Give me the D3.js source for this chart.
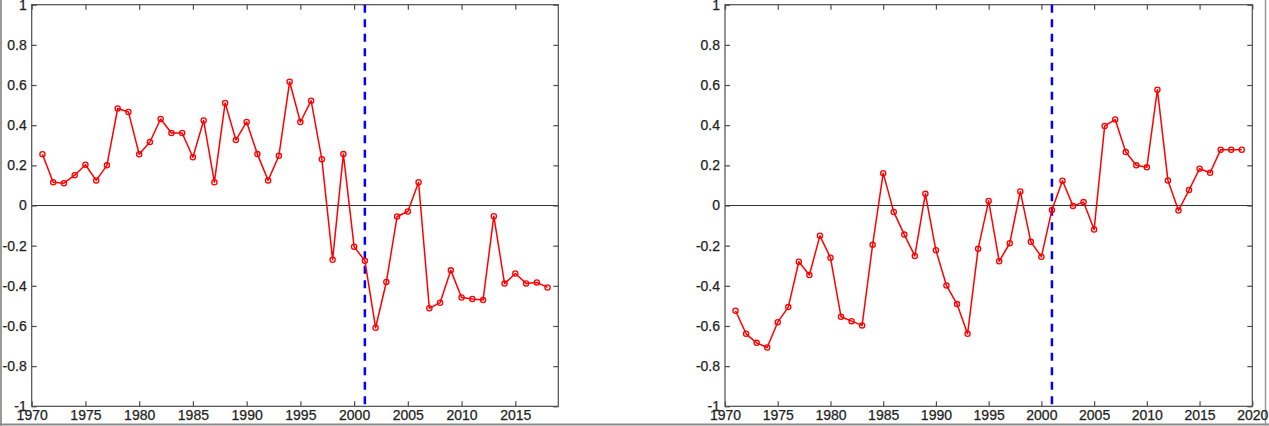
<!DOCTYPE html>
<html>
<head>
<meta charset="utf-8">
<script src="https://cdn.jsdelivr.net/npm/d3@7"></script>
<style>
  html, body { margin: 0; padding: 0; background: #fff; }
  svg { display: block; }
</style>
</head>
<body>
<svg id="chart" width="1269" height="426"></svg>
<script>
// ---- data ----
const yearsLeft = d3.range(1971, 2019);
const valuesLeft = [0.255, 0.116, 0.111, 0.151, 0.203, 0.125, 0.200, 0.483, 0.466, 0.255,
  0.316, 0.431, 0.361, 0.361, 0.240, 0.423, 0.116, 0.511, 0.326, 0.416,
  0.256, 0.125, 0.248, 0.616, 0.416, 0.522, 0.230, -0.270, 0.256, -0.205,
  -0.275, -0.609, -0.381, -0.055, -0.030, 0.116, -0.512, -0.484, -0.323, -0.458,
  -0.466, -0.471, -0.053, -0.389, -0.339, -0.388, -0.383, -0.408];
const yearsRight = d3.range(1971, 2020);
const valuesRight = [-0.524, -0.639, -0.684, -0.707, -0.581, -0.506, -0.280, -0.346, -0.151, -0.260,
  -0.554, -0.576, -0.597, -0.195, 0.161, -0.032, -0.145, -0.251, 0.058, -0.223,
  -0.398, -0.491, -0.639, -0.216, 0.023, -0.278, -0.188, 0.070, -0.181, -0.255,
  -0.022, 0.123, -0.002, 0.017, -0.120, 0.396, 0.428, 0.266, 0.200, 0.190,
  0.577, 0.125, -0.025, 0.077, 0.183, 0.163, 0.278, 0.278, 0.278];
const breakYear = 2001;
const yTicks = [-1, -0.8, -0.6, -0.4, -0.2, 0, 0.2, 0.4, 0.6, 0.8, 1];
const yTickLabels = ["-1", "-0.8", "-0.6", "-0.4", "-0.2", "0", "0.2", "0.4", "0.6", "0.8", "1"];
const xTicksLeft = [1970, 1975, 1980, 1985, 1990, 1995, 2000, 2005, 2010, 2015];
const xTicksRight = [1970, 1975, 1980, 1985, 1990, 1995, 2000, 2005, 2010, 2015, 2020];

const svg = d3.select("#chart");
const axisColor = "#4d4d4d";

// outer frame (screenshot border)
svg.append("line").attr("x1", 1).attr("x2", 1).attr("y1", 0).attr("y2", 426)
  .attr("stroke", "#9a9a9a").attr("stroke-width", 2);
svg.append("line").attr("x1", 0).attr("x2", 1269).attr("y1", 424.5).attr("y2", 424.5)
  .attr("stroke", "#8a8a8a").attr("stroke-width", 2);
svg.append("line").attr("x1", 1265.5).attr("x2", 1265.5).attr("y1", 0).attr("y2", 426)
  .attr("stroke", "#9a9a9a").attr("stroke-width", 1.5);

function panel(cfg) {
  const x = d3.scaleLinear().domain(cfg.xDomain).range([cfg.left, cfg.right]);
  const y = d3.scaleLinear().domain([-1, 1]).range([406.3, 4.7]);
  const g = svg.append("g");
  const tickLen = 5;

  // zero line
  g.append("line")
    .attr("x1", x(cfg.xDomain[0])).attr("x2", x(cfg.xDomain[1]))
    .attr("y1", y(0)).attr("y2", y(0))
    .attr("stroke", "#333").attr("stroke-width", 1);

  // box
  g.append("rect")
    .attr("x", x(cfg.xDomain[0])).attr("y", y(1))
    .attr("width", x(cfg.xDomain[1]) - x(cfg.xDomain[0]))
    .attr("height", y(-1) - y(1))
    .attr("fill", "none").attr("stroke", axisColor).attr("stroke-width", 1.2);

  // inward ticks
  const axB = d3.axisBottom(x).tickValues(cfg.xTicks).tickSize(-tickLen).tickFormat(d3.format("d")).tickPadding(5);
  const gB = g.append("g").attr("transform", `translate(0,${y(-1)})`).call(axB);
  const axT = d3.axisTop(x).tickValues(cfg.xTicks).tickSize(-tickLen).tickFormat("");
  const gT = g.append("g").attr("transform", `translate(0,${y(1)})`).call(axT);
  const axL = d3.axisLeft(y).tickValues(yTicks).tickSize(-tickLen).tickPadding(5)
    .tickFormat((d, i) => yTickLabels[i]);
  const gL = g.append("g").attr("transform", `translate(${x(cfg.xDomain[0])},0)`).call(axL);
  const axR = d3.axisRight(y).tickValues(yTicks).tickSize(-tickLen).tickFormat("");
  const gR = g.append("g").attr("transform", `translate(${x(cfg.xDomain[1])},0)`).call(axR);
  [gB, gT, gL, gR].forEach(a => {
    a.attr("font-size", 14).attr("font-family", "'Liberation Sans', Arial, sans-serif");
    a.select(".domain").remove();
    a.selectAll(".tick line").attr("stroke", axisColor).attr("stroke-width", 1.2);
    a.selectAll(".tick text").attr("fill", "#222")
      .attr("stroke", "#222").attr("stroke-width", 0.25)
      .style("font-size", "14px").style("font-family", "'Liberation Sans', Arial, sans-serif");
  });
  gB.selectAll("text").attr("dy", "0.64em");

  // dashed break line
  g.append("line")
    .attr("x1", x(breakYear)).attr("x2", x(breakYear))
    .attr("y1", y(1)).attr("y2", y(-1))
    .attr("stroke", "#0000ff").attr("stroke-width", 2.5)
    .attr("stroke-dasharray", "8,6.5");

  const pts = cfg.years.map((yr, i) => [yr, cfg.values[i]]);
  const line = d3.line().x(d => x(d[0])).y(d => y(d[1]));
  g.append("path").datum(pts)
    .attr("d", line).attr("fill", "none")
    .attr("stroke", "#ff0000").attr("stroke-width", 1.5)
    .attr("stroke-linejoin", "round");
  g.selectAll("circle.m").data(pts).enter().append("circle")
    .attr("class", "m")
    .attr("cx", d => x(d[0])).attr("cy", d => y(d[1]))
    .attr("r", 2.6).attr("fill", "none")
    .attr("stroke", "#ff0000").attr("stroke-width", 1.3);
}

panel({ xDomain: [1970, 2019], left: 31.7, right: 558.3, xTicks: xTicksLeft, years: yearsLeft, values: valuesLeft });
panel({ xDomain: [1970, 2020], left: 725, right: 1252.3, xTicks: xTicksRight, years: yearsRight, values: valuesRight });
</script>
</body>
</html>
